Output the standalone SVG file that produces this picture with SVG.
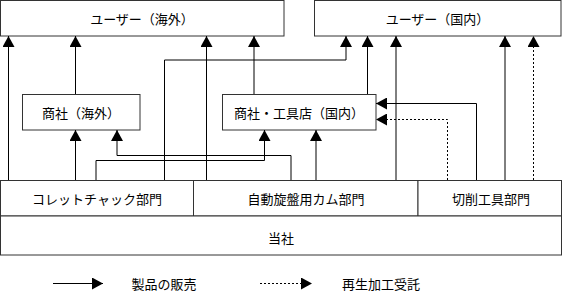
<svg xmlns="http://www.w3.org/2000/svg" width="563" height="291" viewBox="0 0 563 291">
<style>
  .box { fill: #fff; stroke: #333; stroke-width: 1; }
  .lbl { font-family: "Noto Sans CJK JP", "DejaVu Sans", sans-serif; font-size: 13px; fill: #000; text-anchor: middle; dominant-baseline: central; }
  .ln { fill: none; stroke: #000; stroke-width: 1; marker-end: url(#ah); }
  .plain { fill: none; stroke: #000; stroke-width: 1; }
  .dash { stroke-dasharray: 2,2; }
</style>
<defs>
  <marker id="ah" viewBox="0 0 11 12" refX="11" refY="6" markerWidth="11" markerHeight="12" markerUnits="userSpaceOnUse" orient="auto">
    <path d="M0,0 L11,6 L0,12 Z" fill="#000"/>
  </marker>
</defs>
<rect width="563" height="291" fill="#fff"/>

<g id="users-overseas">
  <rect class="box" x="0.5" y="0.5" width="283.5" height="35.5"/>
  <text class="lbl" x="142" y="18">ユーザー（海外）</text>
</g>
<g id="users-domestic">
  <rect class="box" x="314.5" y="0.5" width="246.5" height="35.5"/>
  <text class="lbl" x="437.5" y="18">ユーザー（国内）</text>
</g>
<g id="trading-overseas">
  <rect class="box" x="22.5" y="94.5" width="117.5" height="35.5"/>
  <text class="lbl" x="81" y="112">商社（海外）</text>
</g>
<g id="trading-domestic">
  <rect class="box" x="222.5" y="94.5" width="153.5" height="35.5"/>
  <text class="lbl" x="299" y="112">商社・工具店（国内）</text>
</g>
<g id="dept-collet">
  <rect class="box" x="0.5" y="180.5" width="193" height="35.5"/>
  <text class="lbl" x="97" y="198">コレットチャック部門</text>
</g>
<g id="dept-cam">
  <rect class="box" x="193.5" y="180.5" width="224.5" height="35.5"/>
  <text class="lbl" x="306" y="198">自動旋盤用カム部門</text>
</g>
<g id="dept-tools">
  <rect class="box" x="418" y="180.5" width="143.5" height="35.5"/>
  <text class="lbl" x="491" y="198">切削工具部門</text>
</g>
<g id="company">
  <rect class="box" x="0.5" y="216" width="561" height="39"/>
  <text class="lbl" x="281" y="237">当社</text>
</g>

<g id="connectors">
  <!-- collet dept -->
  <path class="ln" d="M8.5,180 V36"/>
  <path class="ln" d="M75.5,180 V130"/>
  <path class="ln" d="M96,180 V160.5 H264.5 V130"/>
  <path class="ln" d="M164.5,180 V60 H346 V36"/>
  <!-- cam dept -->
  <path class="ln" d="M206.5,180 V36"/>
  <path class="ln" d="M291,180 V155.5 H117 V130"/>
  <path class="ln" d="M316,180 V130"/>
  <path class="ln" d="M396,180 V36"/>
  <!-- trading domestic to users -->
  <path class="ln" d="M254,94 V36"/>
  <path class="ln" d="M367.5,94 V36"/>
  <!-- trading overseas to users -->
  <path class="ln" d="M75.5,94 V36"/>
  <!-- tools dept -->
  <path class="ln dash" d="M447.5,180 V119.5 H376"/>
  <path class="ln" d="M476.5,180 V103.5 H376"/>
  <path class="ln" d="M505,180 V36"/>
  <path class="ln dash" d="M533.5,180 V36"/>
</g>

<g id="legend">
  <path class="ln" d="M53,283.5 H103"/>
  <text class="lbl" x="164" y="283" style="text-anchor:middle">製品の販売</text>
  <path class="ln dash" d="M260,283.5 H312"/>
  <text class="lbl" x="381" y="283" style="text-anchor:middle">再生加工受託</text>
</g>
</svg>
